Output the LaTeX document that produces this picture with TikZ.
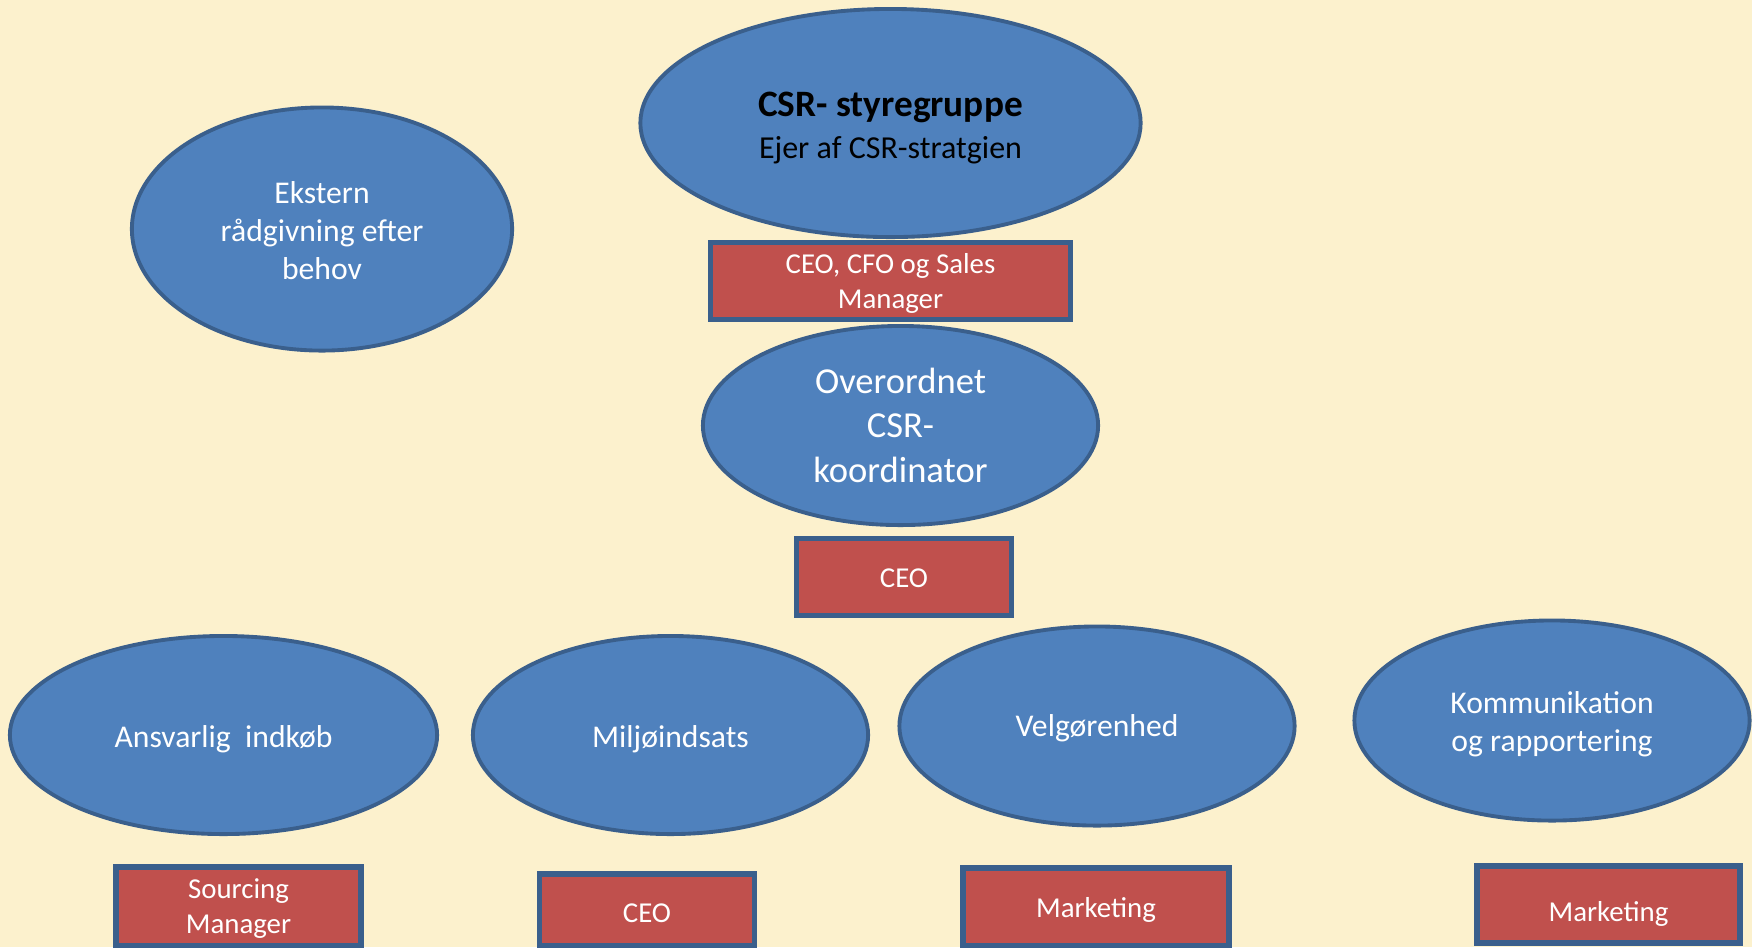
\documentclass[tikz,border=0pt]{standalone}
\usepackage{fontspec}
\setmainfont{Carlito}
\usetikzlibrary{shapes.geometric}
\definecolor{Parchment}{HTML}{FCF1CD}
\definecolor{OvalBlue}{HTML}{4F81BD}
\definecolor{OvalEdge}{HTML}{3A5F8C}
\definecolor{BoxRed}{HTML}{C0504D}
% lower the text of a node a little, keeping its size
\newcommand{\Lowered}[2]{\raisebox{-#1}[\height][\depth]{\begin{tabular}{@{}c@{}}#2\end{tabular}}}
\begin{document}
\begin{tikzpicture}
[
x=0.01cm, y=-0.01cm,
Oval/.style={ellipse, draw=OvalEdge, fill=OvalBlue, line width=1.1pt, inner sep=0pt, text=white, font=\fontsize{9}{10.8}\selectfont},
RedBox/.style={rectangle, draw=OvalEdge, fill=BoxRed, line width=1.5pt, inner sep=0pt, text=white, font=\fontsize{8.2}{9.8}\selectfont},
]

\fill[Parchment] (0,0) rectangle (1752,947);
\useasboundingbox (0,0) rectangle (1752,947);

% top
\node[Oval, minimum width=5.0cm, minimum height=2.28cm, text=black, font=\fontsize{9.1}{12}\selectfont] (styregruppe) at (890.5,123) {\Lowered{1.8pt}{{\fontsize{10.6}{12}\selectfont\textbf{CSR- styregruppe}}\\Ejer af CSR-stratgien}};
\node[RedBox, minimum width=3.6cm, minimum height=0.77cm] (ledelse) at (890.5,281) {\Lowered{0.9pt}{CEO, CFO og Sales\\Manager}};

\node[Oval, minimum width=3.8cm, minimum height=2.43cm] (ekstern) at (322,229) {\Lowered{1.5pt}{Ekstern\\rådgivning efter\\behov}};

% middle
\node[Oval, minimum width=3.95cm, minimum height=1.99cm, font=\fontsize{10.4}{12.7}\selectfont] (koordinator) at (900.5,425.5) {\Lowered{1pt}{Overordnet\\CSR-\\koordinator}};
\node[RedBox, minimum width=2.15cm, minimum height=0.77cm] (ceo) at (904,577) {\Lowered{0.9pt}{CEO}};

% bottom row
\node[Oval, minimum width=4.27cm, minimum height=1.98cm] (indkob) at (223.5,735) {\Lowered{1.5pt}{Ansvarlig\ \ indkøb}};
\node[Oval, minimum width=3.95cm, minimum height=1.98cm] (miljo) at (670.5,735) {\Lowered{1.5pt}{Miljøindsats}};
\node[Oval, minimum width=3.95cm, minimum height=1.99cm] (velgorenhed) at (1097,726) {\Lowered{0.8pt}{Velgørenhed}};
\node[Oval, minimum width=3.95cm, minimum height=2.0cm] (kommunikation) at (1552,720.5) {\Lowered{1.2pt}{Kommunikation\\og rapportering}};

\node[RedBox, minimum width=2.45cm, minimum height=0.79cm] (sourcing) at (238.5,906.5) {\Lowered{0.7pt}{Sourcing\\Manager}};
\node[RedBox, minimum width=2.15cm, minimum height=0.72cm] (miljoceo) at (647,910) {\Lowered{1.5pt}{CEO}};
\node[RedBox, minimum width=2.66cm, minimum height=0.78cm] (marketingA) at (1096,907) {\Lowered{1pt}{Marketing}};
\node[RedBox, minimum width=2.63cm, minimum height=0.77cm] (marketingB) at (1608.5,904.5) {\Lowered{3pt}{Marketing}};

\end{tikzpicture}
\end{document}
